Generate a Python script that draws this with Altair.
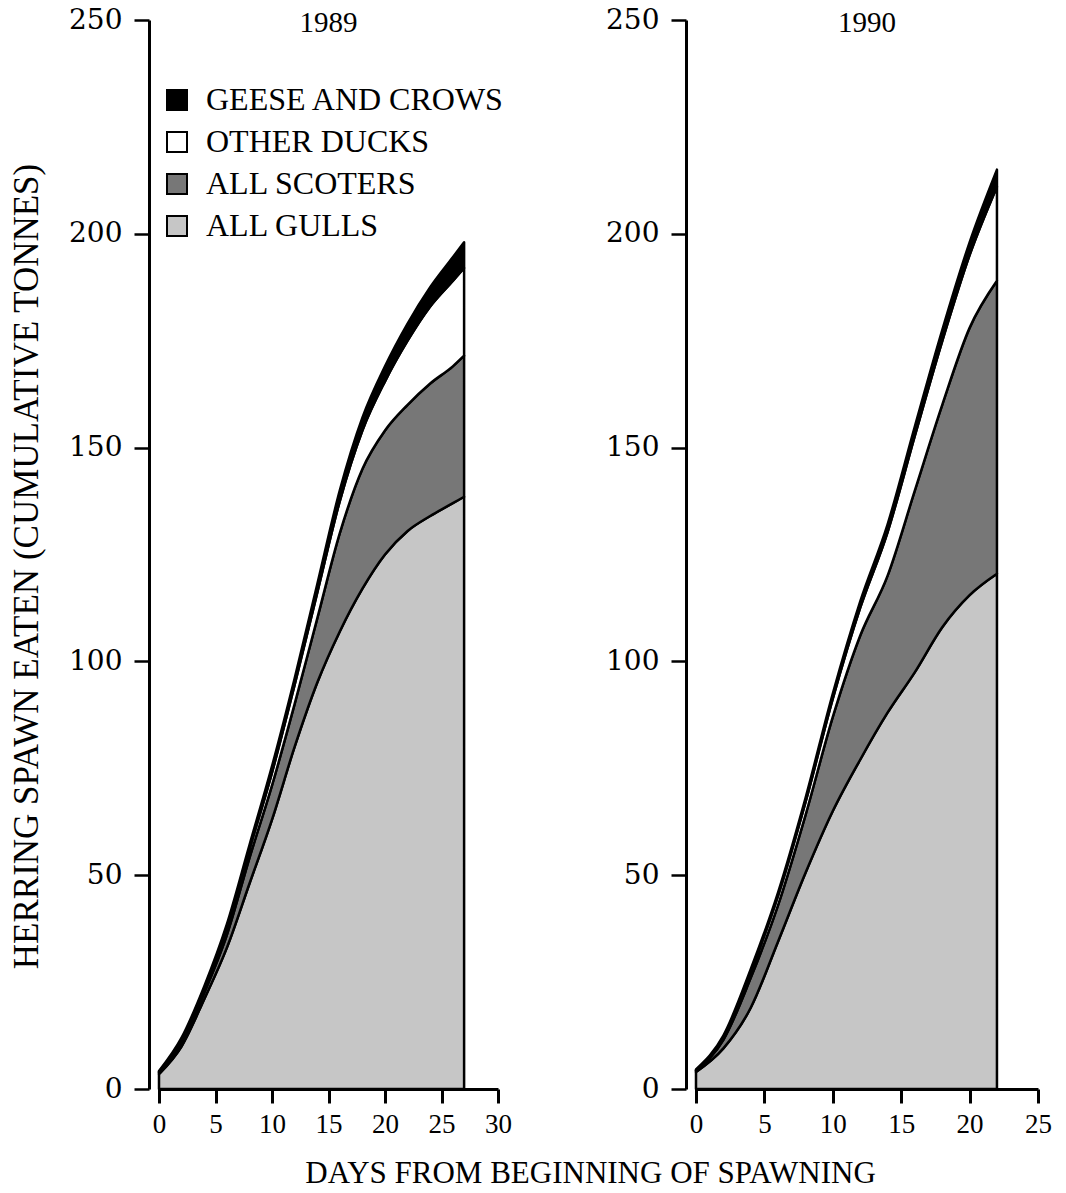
import altair as alt
import pandas as pd

# ---- data (cumulative tonnes per group, stacked) ----
GROUPS = ["GEESE AND CROWS", "OTHER DUCKS", "ALL SCOTERS", "ALL GULLS"]

DAYS_1989 = [0, 2, 4, 6, 8, 10, 12, 14, 16, 18, 20, 22, 24, 26, 27]
GULLS_1989 = [3.5, 10, 21, 33, 48, 63, 80, 95, 107, 117, 125, 130.5, 134, 137, 138.5]
SCOTERS_1989 = [0.3, 1, 1.5, 3, 6, 8, 10, 15, 23, 28, 29, 29.5, 31, 32, 33]
DUCKS_1989 = [0.2, 0.5, 1, 1.5, 2, 3, 4.5, 6, 7.5, 9, 11.5, 15, 18, 20, 20.5]
GEESE_1989 = [0.2, 0.5, 0.5, 1, 1, 1.5, 1.5, 2, 2.5, 3, 3.5, 4, 4.5, 5.5, 6]

DAYS_1990 = [0, 2, 4, 6, 8, 10, 12, 14, 16, 18, 20, 22]
GULLS_1990 = [4, 9.5, 19, 34.5, 50.5, 65, 77, 88, 97.5, 108, 115.5, 120.5]
SCOTERS_1990 = [0.3, 2, 7, 8.5, 13.5, 22, 29, 32, 42.5, 52, 62.5, 68.5]
DUCKS_1990 = [0.1, 0.6, 1.4, 2.2, 3, 4.3, 6.5, 10.2, 12.8, 14.9, 17, 22]
GEESE_1990 = [0.2, 0.4, 0.6, 0.8, 1, 1.2, 1.5, 1.8, 2.2, 2.6, 3, 4]

YEARS = ["1989", "1990"]
X_MAX = [30, 25]
Y_MAX = 250

FILLS = ["#000000", "#ffffff", "#777777", "#c6c6c6"]

SERIF = "Liberation Serif"
WIDE_SERIF = "DejaVu Serif"


def frame(days, gulls, scoters, ducks, geese):
    rows = []
    series = [("ALL GULLS", gulls, 0), ("ALL SCOTERS", scoters, 1),
              ("OTHER DUCKS", ducks, 2), ("GEESE AND CROWS", geese, 3)]
    for name, vals, k in series:
        for d, v in zip(days, vals):
            rows.append({"day": d, "group": name, "value": v, "stackorder": k})
    return pd.DataFrame(rows)


def panel(df, xmax, width, year, first):
    legend = None
    if first:
        legend = alt.Legend(
            title=None, orient="none", legendX=2, legendY=64,
            symbolType="square", symbolSize=400, symbolStrokeColor="black",
            symbolStrokeWidth=2, labelFont=SERIF, labelFontSize=32,
            labelColor="black", labelOffset=13, rowPadding=10, padding=0,
            labelLimit=400,
        )
    yaxis = alt.Axis(
        values=[0, 50, 100, 150, 200, 250], offset=10, tickSize=15,
        tickWidth=2.5, domainWidth=3, domainColor="black", tickColor="black",
        labelFont=WIDE_SERIF, labelFontSize=28, labelColor="black",
        labelPadding=12, grid=False,
        title="HERRING SPAWN EATEN (CUMULATIVE TONNES)" if first else None,
        titleFont=SERIF, titleFontSize=35, titleFontWeight="normal",
        titleColor="black", titlePadding=24, titleY=546,
    )
    xaxis = alt.Axis(
        values=list(range(0, xmax + 1, 5)), tickSize=14, tickWidth=3,
        domainWidth=3, domainColor="black", tickColor="black",
        labelFont=SERIF, labelFontSize=27, labelColor="black",
        labelPadding=8, grid=False, title=None, labelFlush=False,
    )
    x = alt.X("day:Q", scale=alt.Scale(domain=[0, xmax], nice=False), axis=xaxis)
    areas = alt.Chart(df).mark_area(
        interpolate="monotone", stroke="black", strokeWidth=2.5,
        strokeJoin="round",
    ).encode(
        x=x,
        y=alt.Y("value:Q", stack="zero", scale=alt.Scale(domain=[0, Y_MAX], nice=False), axis=yaxis),
        color=alt.Color("group:N", scale=alt.Scale(domain=GROUPS, range=FILLS), legend=legend),
        order=alt.Order("stackorder:Q", sort="ascending"),
    )
    label_df = pd.DataFrame({"day": [xmax / 2], "value": [Y_MAX], "label": [year]})
    label = alt.Chart(label_df).mark_text(
        font=SERIF, fontSize=29, color="black", baseline="middle", dy=3,
    ).encode(x=alt.X("day:Q"), y=alt.Y("value:Q"), text="label:N")
    return alt.layer(areas, label).properties(width=width, height=1069)


left = panel(frame(DAYS_1989, GULLS_1989, SCOTERS_1989, DUCKS_1989, GEESE_1989), X_MAX[0], 339, YEARS[0], True)
right = panel(frame(DAYS_1990, GULLS_1990, SCOTERS_1990, DUCKS_1990, GEESE_1990), X_MAX[1], 342, YEARS[1], False)

chart = alt.hconcat(left, right, spacing=93).resolve_scale(
    color="independent"
).resolve_legend(color="independent").properties(
    padding={"left": 9, "top": 6, "right": 5, "bottom": 5},
    title=alt.TitleParams(text="DAYS FROM BEGINNING OF SPAWNING", orient="bottom",
                          anchor="middle", font=SERIF, fontSize=31,
                          fontWeight="normal", color="black", dx=60, offset=22),
).configure(background="white", view=alt.ViewConfig(stroke=None))

chart.save("out.html", embed_options={"renderer": "svg", "actions": False})
